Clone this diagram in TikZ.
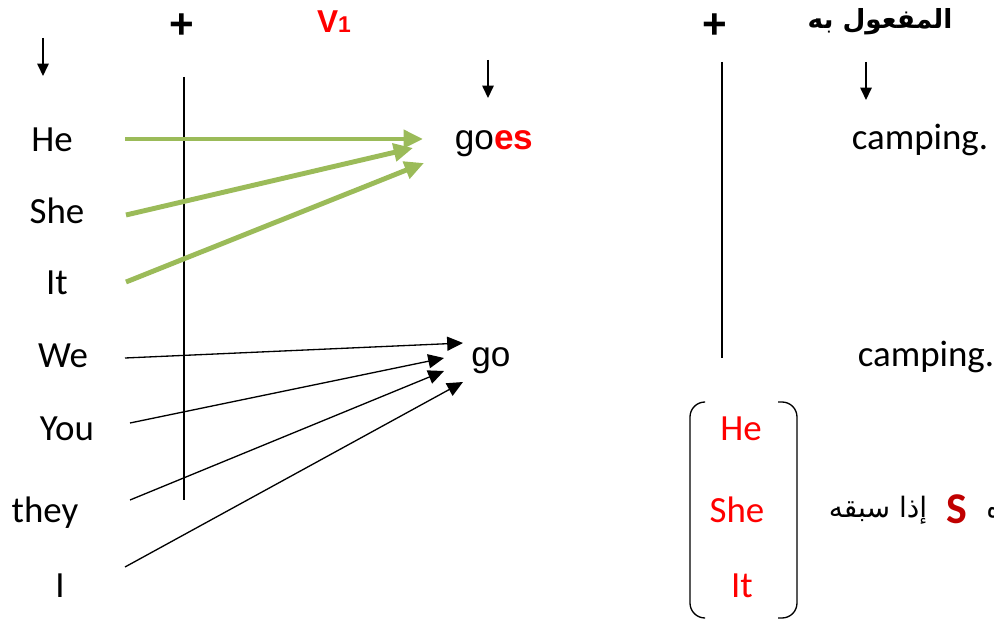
\documentclass[tikz,border=0pt]{standalone}
\usepackage{fontspec}
\setmainfont{Carlito}
\newfontfamily\arialfont{Liberation Sans}
\newfontfamily\arabicfont[Script=Arabic]{DejaVu Sans}
\TeXXeTstate=1
\usetikzlibrary{arrows.meta, calc}
\usepackage{xcolor}
\definecolor{arrowgreen}{RGB}{155, 187, 89}
\definecolor{markred}{RGB}{255, 0, 0}
\definecolor{darkred}{RGB}{192, 0, 0}

\begin{document}
\begin{tikzpicture}[
  x=0.02cm, y=-0.02cm,
  pron/.style={anchor=base, inner sep=0pt, font=\fontsize{21}{25}\selectfont},
  redpron/.style={pron, text=markred},
  verb/.style={anchor=base, inner sep=0pt, font=\arialfont\fontsize{20}{24}\selectfont},
  head/.style={inner sep=0pt, font=\arialfont\bfseries\fontsize{18}{22}\selectfont},
  plussign/.style={head, font=\arialfont\bfseries\fontsize{24}{28}\selectfont},
  arab/.style={anchor=base, inner sep=0pt, font=\arabicfont\fontsize{16}{20}\selectfont},
  greenarr/.style={-{Triangle[length=11pt, width=10pt]}, line width=2.8pt, draw=arrowgreen},
  blackarr/.style={-{Triangle[length=9pt, width=8pt]}, line width=0.75pt},
  downarr/.style={-{Triangle[length=7pt, width=6.5pt]}, line width=0.75pt},
  divider/.style={line width=0.75pt},
  paren/.style={line width=0.75pt, rounded corners=0.3cm},
]
\clip (0,0) rectangle (994,621);

%% Headings
\node[plussign] (plusA) at (182,26) {+};
\node[head, text=markred, anchor=base] (vone) at (334,33) {V{\fontsize{13}{15}\selectfont 1}};
\node[plussign] (plusB) at (715,26) {+};
\node[arab, font=\arabicfont\bfseries\fontsize{15}{19}\selectfont] (obj) at (880,29) {\beginR المفعول به\endR};

%% Down arrows
\draw[downarr] (43,38) -- (43,76);
\draw[downarr] (488,60) -- (488,98);
\draw[downarr] (866,62) -- (866,100);

%% Dividers
\draw[divider] (184,77) -- (184,500);
\draw[divider] (722,62) -- (722,358);

%% Subjects
\node[pron] (he)   at (52,152)  {He};
\node[pron] (she)  at (57,224)  {She};
\node[pron] (it)   at (57,295)  {It};
\node[pron] (we)   at (63,368)  {We};
\node[pron] (you)  at (67,440)  {You};
\node[pron] (they) at (45,522)  {they};
\node[pron] (i)    at (60,597)  {I};

%% Verbs and objects
\node[verb] (goes) at (494,150) {go{\bfseries\color{markred}es}};
\node[verb] (go)   at (491,367) {go};
\node[pron] (campA) at (920,150) {camping.};
\node[pron] (campB) at (926,367) {camping.};

%% Third person arrows
\draw[greenarr] ($(he.base)+(73,-13)$)  -- ($(goes.base)+(-71,-11)$);
\draw[greenarr] ($(she.base)+(69,-9)$)  -- ($(goes.base)+(-81,-2)$);
\draw[greenarr] ($(it.base)+(69,-13)$)  -- ($(goes.base)+(-70,13)$);

%% Other subjects
\draw[blackarr] ($(we.base)+(62,-10)$)   -- ($(go.base)+(-28,-24)$);
\draw[blackarr] ($(you.base)+(63,-17)$)  -- ($(go.base)+(-47,-9)$);
\draw[blackarr] ($(they.base)+(85,-22)$) -- ($(go.base)+(-47,4)$);
\draw[blackarr] ($(i.base)+(65,-30)$)    -- ($(go.base)+(-28,15)$);

%% Rule box
\node[redpron] (rhe)  at (741,440) {He};
\node[redpron] (rshe) at (737,522) {She};
\node[redpron] (rit)  at (742,597) {It};
\draw[paren] (705,402) -- (690,402) -- (690,618) -- (705,618);
\draw[paren] (778,402) -- (797,402) -- (797,618) -- (778,618);

\node[arab] (cond) at (878,517) {\beginR إذا سبقه\endR};
\node[pron, anchor=base, text=darkred, font=\bfseries\fontsize{25}{30}\selectfont] (sletter) at (957,523) {S};
\node[arab, anchor=base west] (cut) at (986,517) {ه};
\end{tikzpicture}
\end{document}
